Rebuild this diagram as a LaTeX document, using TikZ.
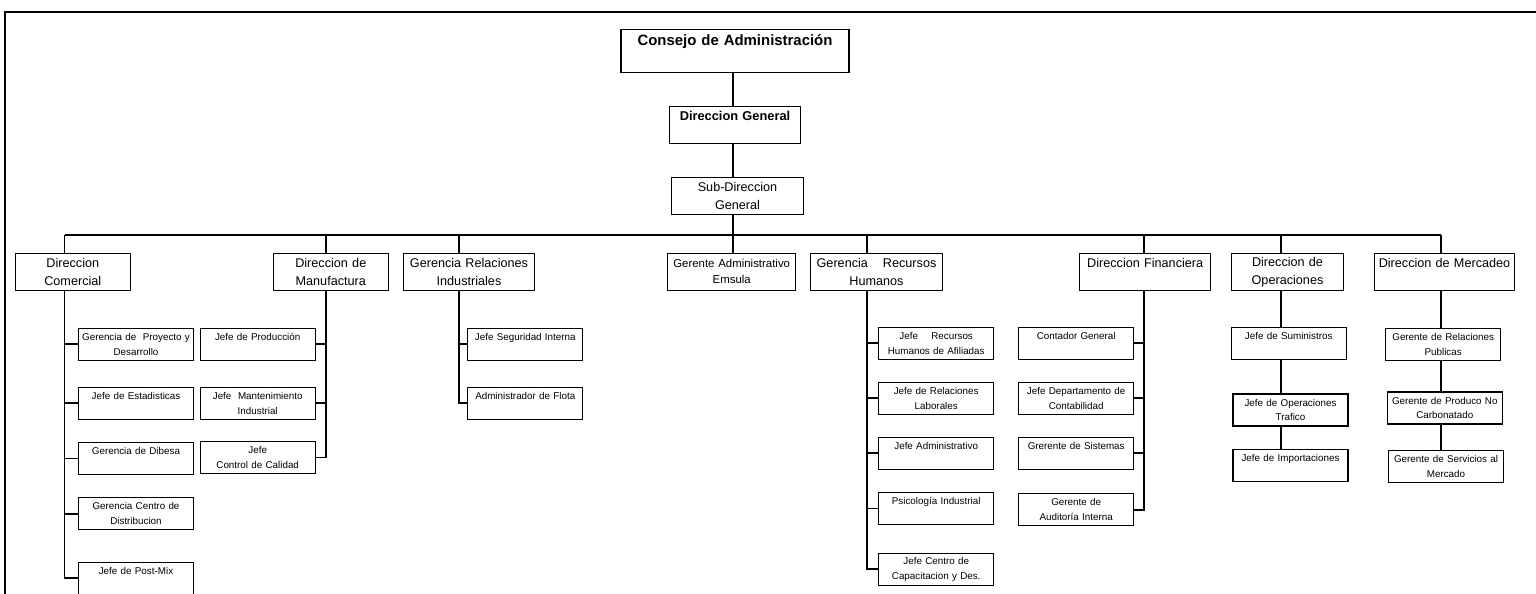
\documentclass[tikz,border=0pt]{standalone}
\usepackage{fontspec}
\setmainfont{Liberation Sans}
\usetikzlibrary{positioning}
\tikzset{
  cargo/.style={draw,line width=0.7pt,fill=white,align=center,inner sep=0pt,
    text width=#1,minimum height=0.74cm,font=\fontsize{7.2}{10.4}\selectfont},
  cargo/.default=2.3cm,
  puesto/.style={draw,line width=0.7pt,fill=white,align=center,inner sep=0pt,
    text width=2.3cm,minimum height=0.64cm,font=\fontsize{5.6}{8.5}\selectfont},
  linea/.style={line width=1pt},
  marco/.style={line width=1.2pt}
}

\begin{document}
\begin{tikzpicture}[x=0.02cm,y=-0.02cm]
    \useasboundingbox (0,0) rectangle (1536,594);
    \draw[marco] (5,594) -- (5,12) -- (1536,12);

    \path
    (735,50.8) node[cargo=4.56cm,minimum height=0.86cm,font=\fontsize{8.5}{12}\selectfont\bfseries] (con) {Consejo de Administración\\~}
    (735,124.7) node[cargo=2.63cm,font=\fontsize{7.3}{10.4}\selectfont\bfseries] (dge) {Direccion General\\~}
    (737.5,196.2) node[cargo=2.63cm] (sdg) {Sub-Direccion\\General}
    ;

    \path
    (72.8,272) node[cargo] (com) {Direccion\\Comercial}
    (330.8,272) node[cargo] (man) {Direccion de\\Manufactura}
    (469,272) node[cargo=2.62cm] (rin) {Gerencia Relaciones\\Industriales}
    (731.7,271.7) node[cargo=2.56cm,font=\fontsize{6.5}{9.1}\selectfont] (gad) {Gerente Administrativo\\Emsula}
    (876.5,272) node[cargo=2.63cm] (rhu) {Gerencia\hspace{0.3cm}Recursos\\Humanos}
    (1145.2,272) node[cargo=2.62cm] (fin) {Direccion Financiera\\~}
    (1287.5,272) node[cargo=2.23cm] (ope) {Direccion de\\Operaciones}
    (1444.5,272) node[cargo=2.79cm] (mer) {Direccion de Mercadeo\\~}
    ;

    \path
    (136,344.2) node[puesto] (com1) {Gerencia de~ Proyecto y\\Desarrollo}
    (136,403.2) node[puesto] (com2) {Jefe de Estadisticas\\~}
    (136,458.5) node[puesto] (com3) {Gerencia de Dibesa\\~}
    (136,513.8) node[puesto] (com4) {Gerencia Centro de\\Distribucion}
    (136,578.2) node[puesto] (com5) {Jefe de Post-Mix\\~}
    (257.7,344.2) node[puesto] (man1) {Jefe de Producción\\~}
    (257.7,403.2) node[puesto] (man2) {Jefe~ Mantenimiento\\Industrial}
    (257.7,457.5) node[puesto] (man3) {Jefe\\Control de Calidad}
    (525.3,344.2) node[puesto] (rin1) {Jefe Seguridad Interna\\~}
    (525.3,403.2) node[puesto] (rin2) {Administrador de Flota\\~}
    ;

    \path
    (936.2,343.2) node[puesto] (rhu1) {Jefe\hspace{0.2cm} Recursos\\Humanos de Afiliadas}
    (936.2,398.2) node[puesto] (rhu2) {Jefe de Relaciones\\Laborales}
    (936.2,453.3) node[puesto] (rhu3) {Jefe Administrativo\\~}
    (936.2,508.5) node[puesto] (rhu4) {Psicología Industrial\\~}
    (936.2,569.2) node[puesto] (rhu5) {Jefe Centro de\\Capacitacion y Des.}
    (1076.2,343.2) node[puesto] (fin1) {Contador General\\~}
    (1076.2,398.2) node[puesto] (fin2) {Jefe Departamento de\\Contabilidad}
    (1076.2,453.2) node[puesto] (fin3) {Grerente de Sistemas\\~}
    (1076.2,509.8) node[puesto] (fin4) {Gerente de\\Auditoría Interna}
    ;

    \path
    (1288.7,343.2) node[puesto] (ope1) {Jefe de Suministros\\~}
    (1290.5,410) node[puesto] (ope2) {Jefe de Operaciones\\Trafico}
    (1290.5,465.2) node[puesto] (ope3) {Jefe de Importaciones\\~}
    (1443.2,344.2) node[puesto] (mer1) {Gerente de Relaciones\\Publicas}
    (1444.8,408) node[puesto] (mer2) {Gerente de Produco No\\Carbonatado}
    (1446,466.2) node[puesto] (mer3) {Gerente de Servicios al\\Mercado}
    ;

    \coordinate (eje) at (733,235);
    \foreach \n/\x in {com/64.6,man/325.8,rin/458.7,rhu/866.7,fin/1143.8,ope/1281,mer/1441}
      \coordinate (x\n) at (\x,235);

    \draw[linea] (eje |- con.south) -- (eje |- dge.north);
    \draw[linea] (eje |- dge.south) -- (eje |- sdg.north);
    \draw[linea] (eje |- sdg.south) -- (eje |- gad.north);
    \draw[linea] (xcom) -- (xmer);
    \foreach \n in {com,man,rin,rhu,fin,ope,mer}
      \draw[linea] (x\n) -- (x\n |- \n.north);

    \draw[linea] (xcom |- com.south) |- (com5.west);
    \foreach \k in {1,...,4}
      \draw[linea] (xcom |- com\k.west) -- (com\k.west);
    \draw[linea] (xman |- man.south) |- (man3.east);
    \foreach \k in {1,2}
      \draw[linea] (xman |- man\k.east) -- (man\k.east);
    \draw[linea] (xrin |- rin.south) |- (rin2.west);
    \draw[linea] (xrin |- rin1.west) -- (rin1.west);
    \draw[linea] (xrhu |- rhu.south) |- (rhu5.west);
    \foreach \k in {1,...,4}
      \draw[linea] (xrhu |- rhu\k.west) -- (rhu\k.west);
    \draw[linea] (xfin |- fin.south) |- (fin4.east);
    \foreach \k in {1,...,3}
      \draw[linea] (xfin |- fin\k.east) -- (fin\k.east);

    \draw[linea] (xope |- ope.south) -- (xope |- ope1.north)
      (xope |- ope1.south) -- (xope |- ope2.north)
      (xope |- ope2.south) -- (xope |- ope3.north);
    \draw[linea] (xmer |- mer.south) -- (xmer |- mer1.north)
      (xmer |- mer1.south) -- (xmer |- mer2.north)
      (xmer |- mer2.south) -- (xmer |- mer3.north);
\end{tikzpicture}
\end{document}
